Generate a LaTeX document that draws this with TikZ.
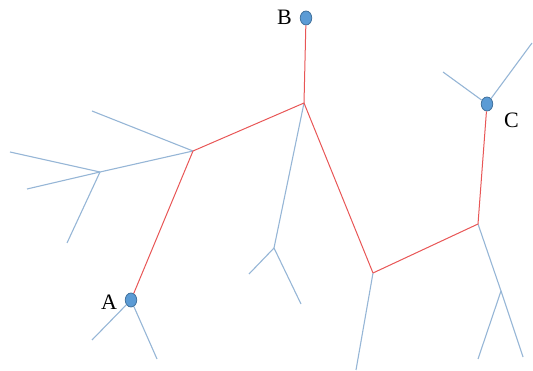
\documentclass[tikz,border=0pt]{standalone}
\usepackage{fontspec}
\setmainfont{Liberation Serif}
\usetikzlibrary{shapes.geometric}
\definecolor{bl}{RGB}{150,182,214}
\definecolor{rd}{RGB}{232,86,86}
\definecolor{nodefill}{RGB}{91,155,213}
\definecolor{nodeedge}{RGB}{65,113,156}
\begin{document}
\begin{tikzpicture}[x=1pt,y=-1pt,
  pt/.style={ellipse,draw=nodeedge,fill=nodefill,line width=0.8pt,minimum width=11.5pt,minimum height=14pt,inner sep=0pt},
  lbl/.style={font=\fontsize{22}{22}\selectfont,inner sep=0pt},
  blu/.style={draw=bl,line width=1.1pt},
  red/.style={draw=rd,line width=1pt}]
\useasboundingbox (0,0) rectangle (533,371);
% junctions
\coordinate (J1) at (193,151);
\coordinate (J2) at (304,103);
\coordinate (J3) at (373,273);
\coordinate (J4) at (478,224);
\coordinate (J5) at (100,172);
\coordinate (J6) at (274,248);
\coordinate (J7) at (501,291);
% free ends
\coordinate (e1) at (92,111);
\coordinate (e2) at (10,152);
\coordinate (e3) at (27,189);
\coordinate (e4) at (67,243);
\coordinate (e5) at (92,340);
\coordinate (e6) at (157,359);
\coordinate (e7) at (249,274);
\coordinate (e8) at (301,304);
\coordinate (e9) at (356,370);
\coordinate (e10) at (478,359);
\coordinate (e11) at (523,357);
\coordinate (e12) at (443,72);
\coordinate (e13) at (532,43);
% points
\node[pt] (A) at (131,300) {};
\node[pt] (B) at (306,18) {};
\node[pt] (C) at (487,104) {};
\node[lbl] (la) at (109,302) {A};
\node[lbl] (lb) at (284.5,17) {B};
\node[lbl] (lc) at (511.5,120) {C};
% blue branches
\draw[blu] (e1) -- (J1);
\draw[blu] (J5) -- (J1);
\draw[blu] (e2) -- (J5);
\draw[blu] (e3) -- (J5);
\draw[blu] (J5) -- (e4);
\draw[blu] (A) -- (e5);
\draw[blu] (A) -- (e6);
\draw[blu] (J2) -- (J6);
\draw[blu] (J6) -- (e7);
\draw[blu] (J6) -- (e8);
\draw[blu] (J3) -- (e9);
\draw[blu] (J4) -- (J7);
\draw[blu] (J7) -- (e10);
\draw[blu] (J7) -- (e11);
\draw[blu] (C) -- (e12);
\draw[blu] (C) -- (e13);
% red path
\draw[red] (A) -- (J1);
\draw[red] (J1) -- (J2);
\draw[red] (J2) -- (B);
\draw[red] (J2) -- (J3);
\draw[red] (J3) -- (J4);
\draw[red] (J4) -- (C);
\end{tikzpicture}
\end{document}
